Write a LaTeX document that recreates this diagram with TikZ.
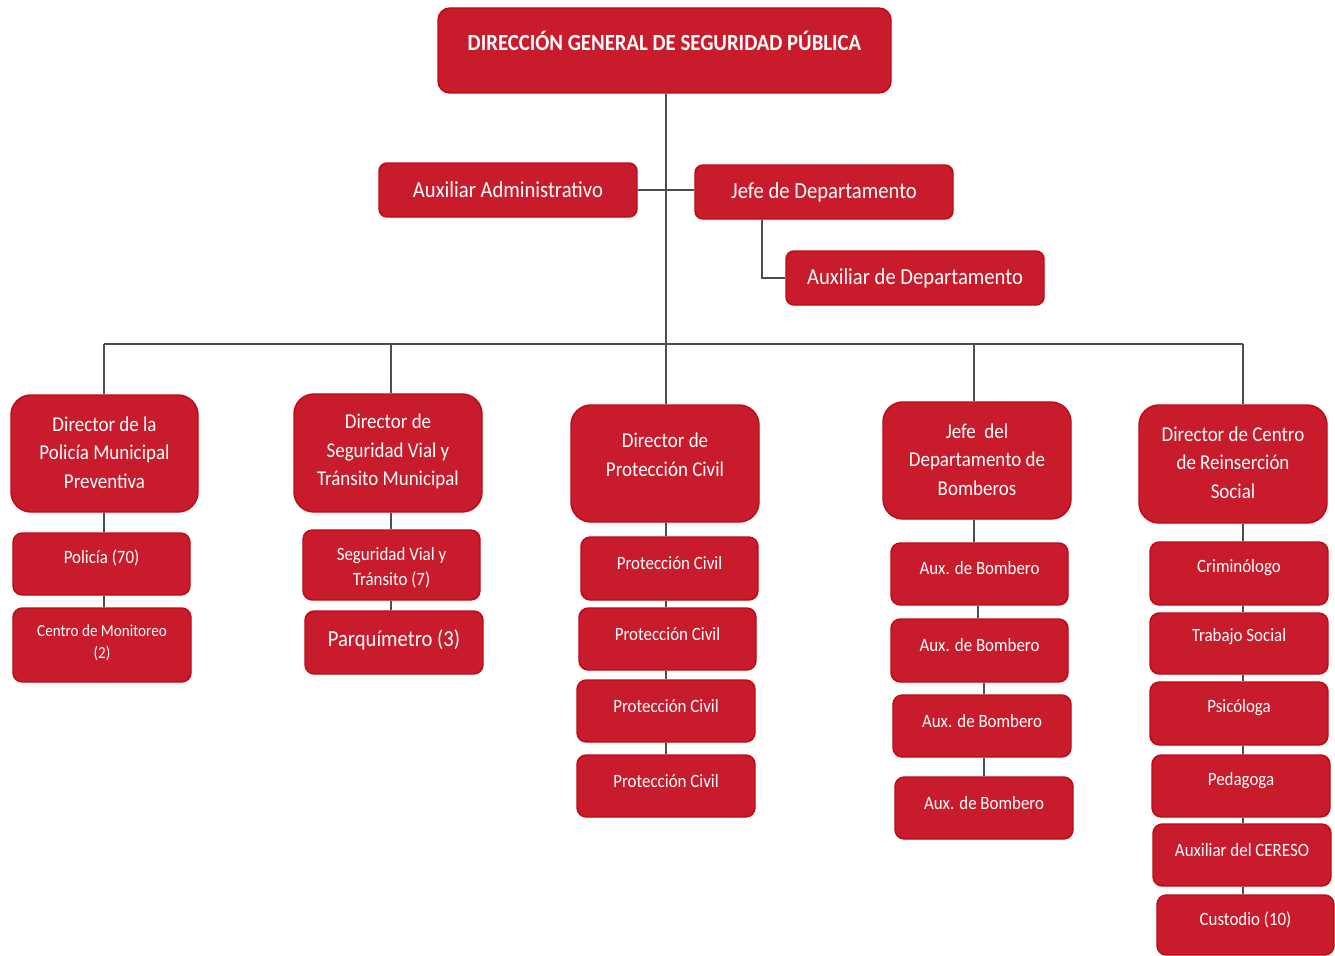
\documentclass[tikz,border=0pt]{standalone}
\usepackage{fontspec}
\setmainfont{Carlito}[FakeStretch=0.9]
\usetikzlibrary{calc}
\definecolor{boxfill}{HTML}{C81B2B}
\definecolor{boxline}{HTML}{BE0A14}
\definecolor{connc}{HTML}{4D4D4D}
\tikzset{
 boxshape/.style={draw=boxline, fill=boxfill, line width=1.1pt, inner sep=0pt, rectangle},
 txt/.style={text=white, align=center, inner sep=0pt},
 rtop/.style={rounded corners=9pt, font=\fontsize{17.3}{21}\selectfont\bfseries},
 rmid/.style={rounded corners=6pt, font=\fontsize{17.2}{21}\selectfont},
 rdir/.style={rounded corners=15pt, font=\fontsize{15.8}{21.4}\selectfont},
 rsub/.style={rounded corners=7pt, font=\fontsize{14.1}{18.8}\selectfont},
 rsmall/.style={rounded corners=7pt, font=\fontsize{12.6}{16.5}\selectfont},
 rbig/.style={rounded corners=7pt, font=\fontsize{17.2}{21}\selectfont},
 conn/.style={draw=connc, line width=0.9pt},
}
\newcommand\obox[8][]{%
 \node[boxshape,#1,minimum width={(#5-#3)*0.75pt},minimum height={(#6-#4)*0.75pt}] (#2) at ({(#3+#5)/2},{(#4+#6)/2}) {};
 \node[txt,#1] (#2-t) at ({(#3+#5)/2},#7) {#8};
}
\begin{document}
\begin{tikzpicture}[x=0.75pt,y=-0.75pt]
\useasboundingbox[fill=white] (0,0) rectangle (1335,956);
% column coordinates
\coordinate (bus) at (666,344);
\coordinate (c1) at (104,344);
\coordinate (c2) at (391,344);
\coordinate (c3) at (666,344);
\coordinate (c4) at (974,344);
\coordinate (c4b) at (978,344);
\coordinate (c4c) at (984,344);
\coordinate (c5) at (1243,344);
\coordinate (cj) at (762,344);

% top level
\obox[rtop]{title}{438}{8}{891}{93}{41}{DIRECCIÓN GENERAL DE SEGURIDAD PÚBLICA}
\obox[rmid]{aa}{379}{163}{637}{217}{190}{Auxiliar Administrativo}
\obox[rmid]{jefe}{695}{165}{953}{219}{192}{Jefe de Departamento}
\obox[rmid]{auxd}{786}{251}{1044}{305}{278}{Auxiliar de Departamento}

% directors
\obox[rdir]{d1}{11}{395}{198}{512}{452.5}{Director de la\\Policía Municipal\\Preventiva}
\obox[rdir]{d2}{294}{394}{482}{512}{451.5}{Director de\\Seguridad Vial y\\Tránsito Municipal}
\obox[rdir]{d3}{571}{405}{759}{522}{454.5}{Director de\\Protección Civil}
\obox[rdir]{d4}{883}{402}{1071}{519}{459.5}{Jefe \ del\\Departamento de\\Bomberos}
\obox[rdir]{d5}{1139}{405}{1327}{523}{462.5}{Director de Centro\\de Reinserción\\Social}

% column 1
\obox[rsub]{pol}{13}{533}{190}{595}{558}{Policía (70)}
\obox[rsmall]{mon}{13}{608}{191}{682}{643}{Centro de Monitoreo\\(2)}
% column 2
\obox[rsub]{svt}{303}{530}{480}{600}{567.5}{Seguridad Vial y\\Tránsito (7)}
\obox[rbig]{parq}{305}{611}{483}{674}{640}{Parquímetro (3)}
% column 3
\obox[rsub]{pc1}{581}{537}{758}{600}{563}{Protección Civil}
\obox[rsub]{pc2}{579}{608}{756}{670}{634}{Protección Civil}
\obox[rsub]{pc3}{577}{680}{755}{742}{706}{Protección Civil}
\obox[rsub]{pc4}{577}{755}{755}{817}{781}{Protección Civil}
% column 4
\obox[rsub]{ab1}{891}{543}{1068}{605}{568}{Aux. de Bombero}
\obox[rsub]{ab2}{891}{619}{1068}{682}{645}{Aux. de Bombero}
\obox[rsub]{ab3}{893}{695}{1071}{757}{721}{Aux. de Bombero}
\obox[rsub]{ab4}{895}{777}{1073}{839}{803}{Aux. de Bombero}
% column 5
\obox[rsub]{crim}{1150}{542}{1328}{605}{568}{Criminólogo}
\obox[rsub]{trab}{1150}{613}{1328}{674}{637}{Trabajo Social}
\obox[rsub]{psic}{1150}{682}{1328}{745}{708}{Psicóloga}
\obox[rsub]{peda}{1152}{755}{1330}{817}{781}{Pedagoga}
\obox[rsub]{cere}{1153}{824}{1331}{886}{850}{Auxiliar del CERESO}
\obox[rsub]{cust}{1157}{895}{1334}{955}{920}{Custodio (10)}

% connectors
\draw[conn] (title.south -| bus) -- (bus);
\draw[conn] (aa.east) -- (aa.east -| jefe.west);
\draw[conn] (jefe.south -| cj) |- (auxd.west);
\draw[conn] (c1) -- (c5);
\draw[conn] (bus) -- (d3.north -| c3);
\draw[conn] (c1) -- (d1.north -| c1);
\draw[conn] (c2) -- (d2.north -| c2);
\draw[conn] (c4) -- (d4.north -| c4);
\draw[conn] (c5) -- (d5.north -| c5);

\draw[conn] (d1.south -| c1) -- (pol.north -| c1);
\draw[conn] (pol.south -| c1) -- (mon.north -| c1);
\draw[conn] (d2.south -| c2) -- (svt.north -| c2);
\draw[conn] (svt.south -| c2) -- (parq.north -| c2);
\draw[conn] (d3.south -| c3) -- (pc1.north -| c3);
\draw[conn] (pc1.south -| c3) -- (pc2.north -| c3);
\draw[conn] (pc2.south -| c3) -- (pc3.north -| c3);
\draw[conn] (pc3.south -| c3) -- (pc4.north -| c3);
\draw[conn] (d4.south -| c4) -- (ab1.north -| c4);
\draw[conn] (ab1.south -| c4b) -- (ab2.north -| c4b);
\draw[conn] (ab2.south -| c4c) -- (ab3.north -| c4c);
\draw[conn] (ab3.south -| c4c) -- (ab4.north -| c4c);
\draw[conn] (d5.south -| c5) -- (crim.north -| c5);
\draw[conn] (crim.south -| c5) -- (trab.north -| c5);
\draw[conn] (trab.south -| c5) -- (psic.north -| c5);
\draw[conn] (psic.south -| c5) -- (peda.north -| c5);
\draw[conn] (peda.south -| c5) -- (cere.north -| c5);
\draw[conn] (cere.south -| c5) -- (cust.north -| c5);
\end{tikzpicture}
\end{document}
